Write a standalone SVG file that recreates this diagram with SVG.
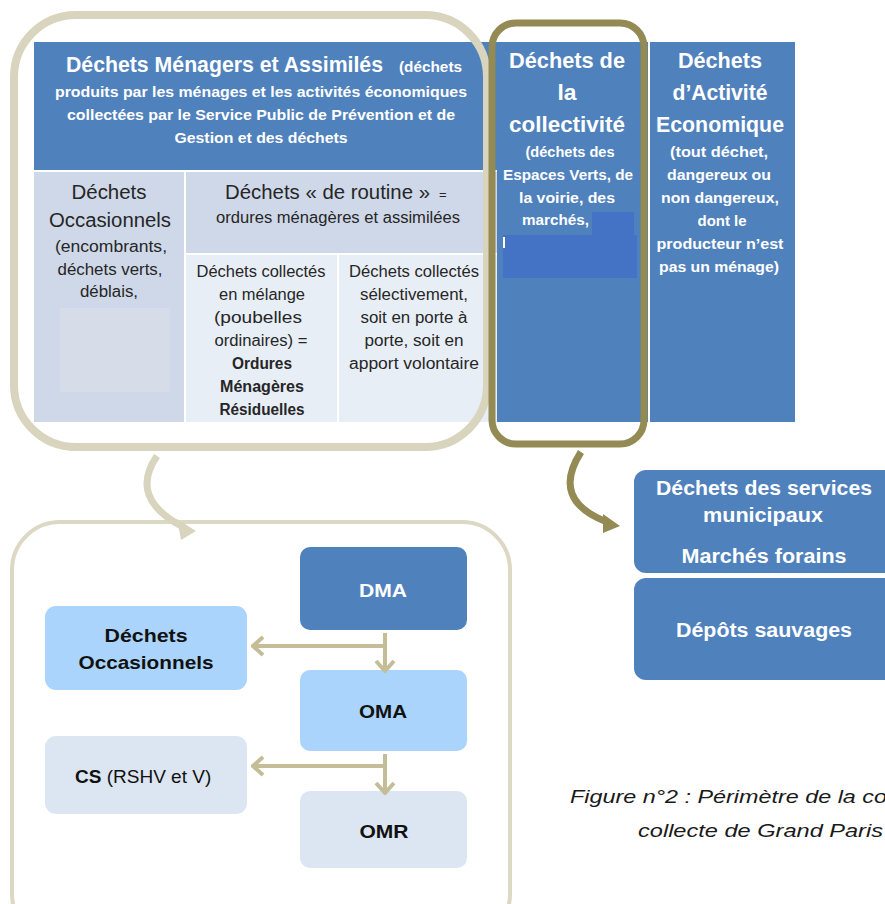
<svg xmlns="http://www.w3.org/2000/svg" width="885" height="904" viewBox="0 0 885 904">
<style>
text{font-family:"Liberation Sans",Arial,sans-serif;}
.w{fill:#ffffff;font-weight:bold;}
.d{fill:#262626;}
.b{font-weight:bold;}
.c{text-anchor:middle;}
.cap{font-style:italic;fill:#1a1a1a;font-size:19px;}
.blue{fill:#4f81bd;}
.conn{fill:none;stroke:#c4bd97;stroke-width:4;}
</style>
<defs>
<marker id="chev" viewBox="0 0 14 22" refX="12" refY="11" markerWidth="14" markerHeight="22" markerUnits="userSpaceOnUse" orient="auto">
<path d="M2,2 L12,11 L2,20" fill="none" stroke="#c4bd97" stroke-width="4"/>
</marker>
</defs>
<rect width="885" height="904" fill="#ffffff"/>

<!-- top table -->
<g id="dma-header">
<rect x="34" y="42" width="463" height="128" class="blue"/>
<text x="66" y="72" class="w"><tspan font-size="22" textLength="317" lengthAdjust="spacingAndGlyphs">Déchets Ménagers et Assimilés</tspan><tspan x="399" font-size="15" textLength="63" lengthAdjust="spacingAndGlyphs">(déchets</tspan></text>
<text x="261" y="97" class="w c" font-size="15" textLength="412" lengthAdjust="spacingAndGlyphs">produits par les ménages et les activités économiques</text>
<text x="261" y="120" class="w c" font-size="15" textLength="388" lengthAdjust="spacingAndGlyphs">collectées par le Service Public de Prévention et de</text>
<text x="261" y="143" class="w c" font-size="15" textLength="173" lengthAdjust="spacingAndGlyphs">Gestion et des déchets</text>
</g>

<g id="occasionnels">
<rect x="34" y="172" width="150" height="250" fill="#cfd8e8"/>
<rect x="60" y="308" width="110" height="84" fill="#d6dde9"/>
<text x="109" y="199" class="d c" font-size="20" textLength="75" lengthAdjust="spacingAndGlyphs">Déchets</text>
<text x="110" y="227" class="d c" font-size="20" textLength="122" lengthAdjust="spacingAndGlyphs">Occasionnels</text>
<text x="111" y="252" class="d c" font-size="16" textLength="112" lengthAdjust="spacingAndGlyphs">(encombrants,</text>
<text x="110" y="275" class="d c" font-size="16" textLength="105" lengthAdjust="spacingAndGlyphs">déchets verts,</text>
<text x="109" y="297" class="d c" font-size="16" textLength="58" lengthAdjust="spacingAndGlyphs">déblais,</text>
</g>

<g id="routine">
<rect x="186" y="172" width="311" height="81" fill="#cfd8e8"/>
<text x="225" y="199" class="d" font-size="20"><tspan textLength="205" lengthAdjust="spacingAndGlyphs">Déchets « de routine »</tspan><tspan x="439" font-size="13">=</tspan></text>
<text x="338" y="223" class="d c" font-size="16" textLength="244" lengthAdjust="spacingAndGlyphs">ordures ménagères et assimilées</text>
</g>

<g id="melange">
<rect x="186" y="255" width="151" height="167" fill="#e8eef6"/>
<g class="d c" font-size="16">
<text x="261" y="277" textLength="129" lengthAdjust="spacingAndGlyphs">Déchets collectés</text>
<text x="262" y="300" textLength="86" lengthAdjust="spacingAndGlyphs">en mélange</text>
<text x="258" y="323" textLength="88" lengthAdjust="spacingAndGlyphs">(poubelles</text>
<text x="261" y="346" textLength="93" lengthAdjust="spacingAndGlyphs">ordinaires) =</text>
<text x="262" y="369" class="b" textLength="60" lengthAdjust="spacingAndGlyphs">Ordures</text>
<text x="262" y="392" class="b" textLength="84" lengthAdjust="spacingAndGlyphs">Ménagères</text>
<text x="262" y="415" class="b" textLength="85" lengthAdjust="spacingAndGlyphs">Résiduelles</text>
</g>
</g>

<g id="selectif">
<rect x="339" y="255" width="158" height="167" fill="#e8eef6"/>
<g class="d c" font-size="16">
<text x="414" y="277" textLength="130" lengthAdjust="spacingAndGlyphs">Déchets collectés</text>
<text x="414" y="300" textLength="108" lengthAdjust="spacingAndGlyphs">sélectivement,</text>
<text x="414" y="323" textLength="107" lengthAdjust="spacingAndGlyphs">soit en porte à</text>
<text x="414" y="346" textLength="99" lengthAdjust="spacingAndGlyphs">porte, soit en</text>
<text x="414" y="369" textLength="130" lengthAdjust="spacingAndGlyphs">apport volontaire</text>
</g>
</g>

<g id="collectivite">
<rect x="497" y="42" width="151" height="380" class="blue"/>
<text x="567" y="68" class="w c" font-size="22" textLength="116" lengthAdjust="spacingAndGlyphs">Déchets de</text>
<text x="567" y="100" class="w c" font-size="22" textLength="19" lengthAdjust="spacingAndGlyphs">la</text>
<text x="567" y="132" class="w c" font-size="22" textLength="116" lengthAdjust="spacingAndGlyphs">collectivité</text>
<text x="570" y="157" class="w c" font-size="14" textLength="89" lengthAdjust="spacingAndGlyphs">(déchets des</text>
<text x="568" y="180" class="w c" font-size="14" textLength="130" lengthAdjust="spacingAndGlyphs">Espaces Verts, de</text>
<text x="567" y="203" class="w c" font-size="14" textLength="96" lengthAdjust="spacingAndGlyphs">la voirie, des</text>
<text x="522" y="225" class="w" font-size="14" textLength="67" lengthAdjust="spacingAndGlyphs">marchés,</text>
<rect x="592" y="212" width="42" height="24" fill="#4472c4"/>
<rect x="503" y="235" width="134" height="43" fill="#4472c4"/>
<rect x="503" y="237" width="2" height="11" fill="#ffffff"/>
</g>

<g id="activite">
<rect x="650" y="42" width="145" height="380" class="blue"/>
<text x="720" y="68" class="w c" font-size="22" textLength="84" lengthAdjust="spacingAndGlyphs">Déchets</text>
<text x="720" y="100" class="w c" font-size="22" textLength="95" lengthAdjust="spacingAndGlyphs">d’Activité</text>
<text x="720" y="132" class="w c" font-size="22" textLength="128" lengthAdjust="spacingAndGlyphs">Economique</text>
<text x="719" y="157" class="w c" font-size="14" textLength="98" lengthAdjust="spacingAndGlyphs">(tout déchet,</text>
<text x="719" y="180" class="w c" font-size="14" textLength="104" lengthAdjust="spacingAndGlyphs">dangereux ou</text>
<text x="720" y="203" class="w c" font-size="14" textLength="118" lengthAdjust="spacingAndGlyphs">non dangereux,</text>
<text x="722" y="226" class="w c" font-size="14" textLength="49" lengthAdjust="spacingAndGlyphs">dont le</text>
<text x="720" y="249" class="w c" font-size="14" textLength="127" lengthAdjust="spacingAndGlyphs">producteur n’est</text>
<text x="719" y="272" class="w c" font-size="14" textLength="120" lengthAdjust="spacingAndGlyphs">pas un ménage)</text>
</g>

<!-- frames -->
<g id="frame-dma">
<rect x="14" y="15" width="473" height="432" rx="62" ry="62" fill="none" stroke="#d9d4bd" stroke-width="8"/>
</g>
<g id="frame-collectivite">
<rect x="492" y="23" width="152" height="421" rx="24" ry="24" fill="none" stroke="#948a54" stroke-width="7"/>
</g>

<!-- right boxes -->
<g id="services">
<rect x="634" y="470" width="270" height="103" rx="12" ry="12" class="blue"/>
<text x="764" y="495" class="w c" font-size="20" textLength="216" lengthAdjust="spacingAndGlyphs">Déchets des services</text>
<text x="763" y="522" class="w c" font-size="20" textLength="120" lengthAdjust="spacingAndGlyphs">municipaux</text>
<text x="764" y="563" class="w c" font-size="20" textLength="165" lengthAdjust="spacingAndGlyphs">Marchés forains</text>
</g>
<g id="depots">
<rect x="634" y="578" width="270" height="102" rx="12" ry="12" class="blue"/>
<text x="764" y="637" class="w c" font-size="20" textLength="176" lengthAdjust="spacingAndGlyphs">Dépôts sauvages</text>
</g>

<!-- bottom frame -->
<g id="frame-bottom">
<rect x="12" y="522" width="498" height="420" rx="48" ry="48" fill="none" stroke="#ddd8c3" stroke-width="4"/>
</g>

<g id="dma">
<rect x="300" y="547" width="167" height="83" rx="10" ry="10" class="blue"/>
<text x="383" y="597" class="w c" font-size="19" textLength="48" lengthAdjust="spacingAndGlyphs">DMA</text>
</g>
<g id="occ-box">
<rect x="45" y="606" width="202" height="84" rx="11" ry="11" fill="#aad4fb"/>
<text x="146" y="642" class="b c" fill="#111" font-size="19" textLength="83" lengthAdjust="spacingAndGlyphs">Déchets</text>
<text x="146" y="669" class="b c" fill="#111" font-size="19" textLength="135" lengthAdjust="spacingAndGlyphs">Occasionnels</text>
</g>
<g id="oma">
<rect x="300" y="670" width="167" height="81" rx="10" ry="10" fill="#aad4fb"/>
<text x="383" y="718" class="b c" fill="#111" font-size="19" textLength="48" lengthAdjust="spacingAndGlyphs">OMA</text>
</g>
<g id="cs">
<rect x="45" y="736" width="202" height="78" rx="11" ry="11" fill="#dce6f2"/>
<text x="75" y="783" fill="#111" font-size="19"><tspan font-weight="bold">CS</tspan> (RSHV et V)</text>
</g>
<g id="omr">
<rect x="300" y="791" width="167" height="77" rx="10" ry="10" fill="#dce6f2"/>
<text x="384" y="838" class="b c" fill="#111" font-size="19" textLength="49" lengthAdjust="spacingAndGlyphs">OMR</text>
</g>

<g id="connectors">
<path class="conn" d="M385,633 L385,671" marker-end="url(#chev)"/>
<path class="conn" d="M385,646 L253,646" marker-end="url(#chev)"/>
<path class="conn" d="M385,754 L385,793" marker-end="url(#chev)"/>
<path class="conn" d="M385,766 L253,766" marker-end="url(#chev)"/>
<path d="M157,456 Q128,498 183,527" fill="none" stroke="#d9d4bd" stroke-width="7"/>
<polygon points="177,519 196,531 181,540" fill="#d9d4bd"/>
<path d="M581,452 Q550,500 607,522" fill="none" stroke="#948a54" stroke-width="7"/>
<polygon points="603,514 620,526 603,533" fill="#948a54"/>
</g>

<g id="caption">
<text x="570" y="803" class="cap" textLength="317" lengthAdjust="spacingAndGlyphs">Figure n°2 : Périmètre de la co</text>
<text x="638" y="837" class="cap" textLength="245" lengthAdjust="spacingAndGlyphs">collecte de Grand Paris</text>
</g>
</svg>
